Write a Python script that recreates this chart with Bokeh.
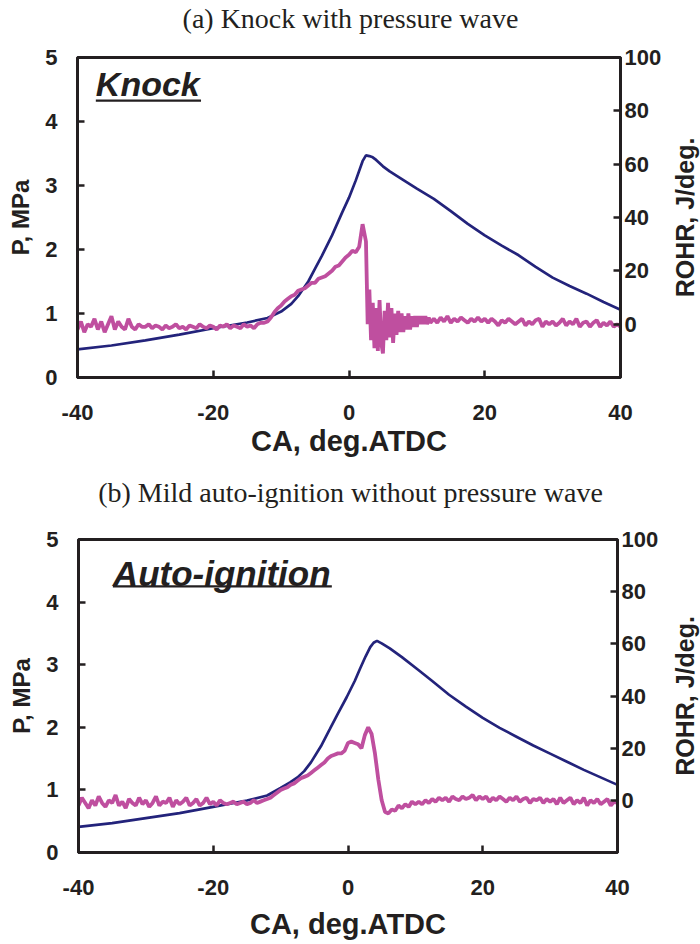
import math
import numpy as np
from bokeh.plotting import figure
from bokeh.models import Range1d, LinearAxis, FixedTicker, Label, BoxAnnotation
from bokeh.layouts import column, row
from bokeh.embed import file_html
from bokeh.resources import INLINE

# ---------------- data: panel (a) knock ----------------
ca_p_knock = [-40, -35, -30, -25, -20, -15, -12, -10, -8.5, -7.5, -6, -5, -4, -2.5, -1, 0, 1, 2, 2.5,
              3, 3.5, 4, 5, 6, 7.5, 10, 12.5, 15, 17.5, 20, 22.5, 25, 27.5, 30, 32.5, 35, 37.5, 40]
p_knock = [0.44, 0.50, 0.58, 0.67, 0.77, 0.86, 0.93, 1.03, 1.15, 1.27, 1.50, 1.70, 1.90, 2.22, 2.58, 2.81,
           3.08, 3.38, 3.47, 3.46, 3.44, 3.40, 3.30, 3.22, 3.12, 2.95, 2.79, 2.60, 2.40, 2.22, 2.06, 1.91,
           1.73, 1.56, 1.43, 1.31, 1.18, 1.06]

# crank-angle sampling grid for the ROHR trace (denser through the knock ringing)
ca_r_knock = np.concatenate([np.arange(-40, 2.51, 0.5), np.arange(2.75, 12.01, 0.25), np.arange(12.5, 40.01, 0.5)])
rohr_knock = [
    # -40 .. -30
    -2, 1, -3, 0, -1, 2, -2, 1, -3, 0, 3, -2, 1, -1, -2, 2, -1, -2, 0, -1, -1,
    # -29.5 .. -13
    0, -1.5, -0.5, -1, -2, -0.5, -1.5, -1, 0, -1.5, -1, -2, -0.5, -1, -1.5, 0, -1, -1.5, -0.5, -1,
    -2, -0.5, -1, 0, -1.5, -0.5, -1, -1.5, 0, -1, -0.5, -1.5, 0, 0.5,
    # -12.5 .. 2.5
    0.5, 1, 2.5, 4.5, 6, 7, 8.5, 9.5, 10.5, 11, 12.5, 13, 13.5, 14.5, 15.5, 15.5, 17, 17.5, 18, 19,
    20, 21.5, 22, 23.5, 25, 26, 27.5, 27, 29, 37.5, 31,
    # 2.75 .. 12 (pressure-wave ringing)
    0, 13, -6, 8, -9, 6, -10, 9, -7, -11, 5, -6, 8, -5, 6, -7, 4, -4, 5, -3, 4, -3, 3, -2, 4, -2, 3,
    -1, 3, -1, 3, 0, 3, 0, 3, 0, 2.5, 0.5,
    # 12.5 .. 40
    2, 0.5, 2.5, 1, 3, 0.5, 2, 1, 2.5, 1.5, 0.5, 2, 1, 2.5, 1, 2, 0.5, 2, 1, -0.5,
    1.5, 0.5, 2, 1, 0, 1, 2, -0.5, 1, 0, 1.5, 2, -1, 1, 0, 1, -0.5, 0.5, 2, -0.5,
    1, 0, 2, -1, 0.5, 1, -1, 0.5, 1.5, -1, 0.5, -0.5, 1, -1, 0, -1,
]

# ---------------- data: panel (b) auto-ignition ----------------
ca_p_auto = [-40, -35, -30, -25, -20, -15, -12, -10, -8.6, -7.5, -6.5, -5.5, -4, -2.7, -1.5, -0.2, 1, 1.8, 2.6,
             3.3, 3.8, 4.3, 5, 6.2, 8, 10.4, 12.5, 15, 17.5, 20, 22.5, 25, 27.5, 30, 32.5, 35, 37.5, 40]
p_auto = [0.41, 0.47, 0.55, 0.63, 0.73, 0.83, 0.91, 1.03, 1.12, 1.20, 1.30, 1.44, 1.70, 1.97, 2.22, 2.48,
          2.74, 2.94, 3.13, 3.28, 3.35, 3.38, 3.34, 3.26, 3.12, 2.92, 2.74, 2.52, 2.33, 2.15, 1.99, 1.85,
          1.71, 1.58, 1.45, 1.32, 1.20, 1.08]

ca_r_auto = np.arange(-40, 40.01, 0.5)
rohr_auto = [
    # -40 .. -18
    -2, 1, -1, -3, 0, -2, 1.5, -1, -2.5, 0, -1, 2, -2, -0.5, -3, 0.5, -1, -2, 1, -1.5, 0, -2.5, -1,
    1.5, -2, -0.5, -1, 1, -2.5, 0, -1.5, -0.5, 1, -2, -1, 0.5, -2, -1, 1, -1.5, -0.5, -2, 0, -1, -1.5,
    # -17.5 .. -12
    -1, -0.5, -1.5, -1, -0.5, -1.5, -1, 0, -1, -0.5, 0, 0.5,
    # -11.5 .. 5.5
    1, 2, 3, 4, 4.5, 5, 6, 6.5, 7.5, 8.5, 9, 9.5, 10.5, 11.5, 12.5, 13.5, 14.5, 16, 17, 17.5,
    18, 18, 19, 22, 22.5, 22, 21.5, 20, 25, 28, 25.5, 18, 8, 0, -4.5,
    # 6 .. 40
    -5, -3.5, -4, -2, -3, -1.5, -2.5, -0.5, -1.5, -0.5, -1.5, 0, -1, 0.5, -0.5, 1, 0, 1, -0.5, 1.5,
    0.5, 0, 1.5, 0.5, 1, 2, 0, 1.5, 0.5, 1.5, -0.5, 1, 0, 1.5, 0.5, -0.5, 1, 0, 1.5, -0.5,
    0.5, 1, -1, 0.5, 0, 1, -1, 0.5, -0.5, 0.5, -1.5, 1, -1, 0, 1, -1.5, 0, -1, 1, -2,
    0, -1, 0.5, -1.5, -0.5, 0.5, -2, -0.5, -1,
]

x_ticks = [-40, -20, 0, 20, 40]
x_tick_labels = {-40: "-40", -20: "-20", 0: "0", 20: "20", 40: "40"}
p_ticks = [0, 1, 2, 3, 4, 5]
rohr_ticks = [0, 20, 40, 60, 80, 100]

NAVY = "#23237b"
MAGENTA = "#bf4f9f"
INK = "#231f20"
SANS = "Liberation Sans"
SERIF = "Liberation Serif"


def bare(width, height, y_range, top=0, bottom=0):
    f = figure(width=width, height=height, x_range=Range1d(-1, 1), y_range=y_range,
               x_axis_type=None, y_axis_type=None, output_backend="svg", toolbar_location=None,
               min_border_left=0, min_border_right=0, min_border_top=top, min_border_bottom=bottom)
    f.outline_line_color = None
    f.background_fill_color = "white"
    f.border_fill_color = "white"
    f.xgrid.visible = False
    f.ygrid.visible = False
    return f


def caption(text, height):
    f = bare(700, height, Range1d(-1, 1))
    f.add_layout(Label(x=0, y=0, text=text, text_font=SERIF, text_font_size="28px", text_color=INK,
                       text_align="center", text_baseline="middle"))
    return f


def rohr_title(height, top, bottom):
    f = bare(32, height, Range1d(0, 5), top, bottom)
    f.add_layout(Label(x=0, y=2.5, angle=math.pi / 2, text="ROHR, J/deg.", text_font=SANS,
                       text_font_style="bold", text_font_size="25px", text_color=INK,
                       text_align="center", text_baseline="middle"))
    return f


def style_axis(ax, label, tick_std, label_std, label_size):
    ax.axis_label = label
    ax.axis_label_text_font = SANS
    ax.axis_label_text_font_style = "bold"
    ax.axis_label_text_font_size = label_size
    ax.axis_label_text_color = INK
    ax.axis_label_standoff = label_std
    ax.major_label_text_font = SANS
    ax.major_label_text_font_style = "bold"
    ax.major_label_text_font_size = "22px"
    ax.major_label_text_color = INK
    ax.major_label_standoff = tick_std
    ax.axis_line_color = INK
    ax.axis_line_width = 3
    ax.major_tick_line_color = INK
    ax.major_tick_line_width = 2.5
    ax.major_tick_in = 7
    ax.major_tick_out = 0
    ax.minor_tick_line_color = None


def panel(ca_p, p, ca_r, r, tag, tag_x, tag_y, tag_size, ul,
          width, height, left, right, top, bottom, xlabel_std):
    fig = figure(width=width, height=height, x_range=Range1d(-40, 40), y_range=Range1d(0, 5),
                 output_backend="svg", toolbar_location=None,
                 min_border_left=left, min_border_right=right, min_border_top=top, min_border_bottom=bottom)
    fig.extra_y_ranges = {"rohr": Range1d(-20, 100)}
    fig.xgrid.visible = False
    fig.ygrid.visible = False
    fig.outline_line_color = INK
    fig.outline_line_width = 3
    fig.background_fill_color = "white"
    fig.border_fill_color = "white"

    fig.xaxis.ticker = FixedTicker(ticks=x_ticks)
    fig.xaxis.major_label_overrides = x_tick_labels
    fig.yaxis.ticker = FixedTicker(ticks=p_ticks)
    style_axis(fig.xaxis[0], "CA, deg.ATDC", 27, xlabel_std, "29px")
    style_axis(fig.yaxis[0], "P, MPa", 20, 8, "24px")

    right_ax = LinearAxis(y_range_name="rohr", ticker=FixedTicker(ticks=rohr_ticks))
    style_axis(right_ax, "", 4, 0, "24px")
    fig.add_layout(right_ax, "right")

    fig.line(ca_p, p, color=NAVY, line_width=2.7)
    fig.line(ca_r, r, y_range_name="rohr", color=MAGENTA, line_width=3.8)

    fig.add_layout(Label(x=tag_x, y=tag_y, text=tag, text_font=SANS, text_font_style="bold italic",
                         text_font_size=tag_size, text_color=INK, text_baseline="middle"))
    fig.add_layout(BoxAnnotation(left=ul[0], right=ul[1], bottom=ul[2], top=ul[3],
                                 fill_color=INK, fill_alpha=1, line_alpha=0))
    return fig


p1 = panel(ca_p_knock, p_knock, ca_r_knock, rohr_knock,
           "Knock", -37.3, 4.58, "34px", (-37.3, -21.8, 4.31, 4.345),
           668, 429, 77, 48, 21, 88, 2)
p2 = panel(ca_p_auto, p_auto, ca_r_auto, rohr_auto,
           "Auto-ignition", -34.9, 4.46, "35px", (-34.9, -2.4, 4.235, 4.27),
           668, 423, 78, 51, 20, 89, 10)

layout = column(
    caption("(a) Knock with pressure wave", 36),
    row(p1, rohr_title(429, 21, 88)),
    caption("(b) Mild auto-ignition without pressure wave", 54),
    row(p2, rohr_title(423, 20, 89)),
)
open("out.html", "w").write(file_html(layout, INLINE))
